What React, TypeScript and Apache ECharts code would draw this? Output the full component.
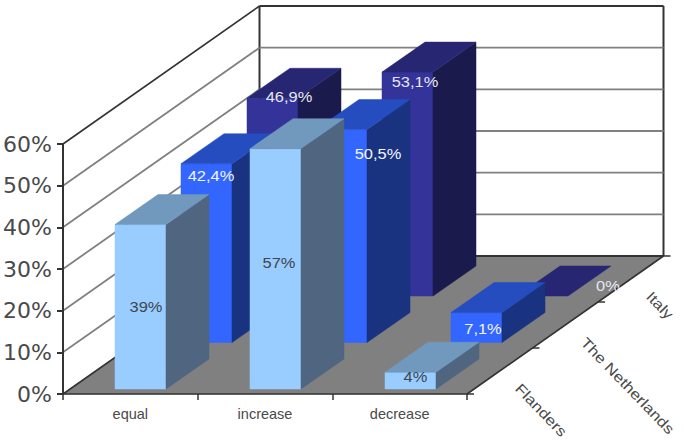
import React, { useEffect, useRef } from "react";
import * as echarts from "echarts";

const categories = ["equal", "increase", "decrease"];
const regions = ["Flanders", "The Netherlands", "Italy"];
const yTicks = [0, 10, 20, 30, 40, 50, 60];

const flandersValues = [39, 57, 4];
const netherlandsValues = [42.4, 50.5, 7.1];
const italyValues = [46.9, 53.1, 0];

const flandersLabels = ["39%", "57%", "4%"];
const netherlandsLabels = ["42,4%", "50,5%", "7,1%"];
const italyLabels = ["46,9%", "53,1%", "0%"];

// Box shading per region: front, top and side faces
const flandersFaces = ["#99ccff", "#7099bd", "#4f6580"];
const netherlandsFaces = ["#3366ff", "#254dbf", "#193380"];
const italyFaces = ["#333399", "#262673", "#1a1a4d"];

// Oblique projection of the depth axis, in pixels
const DEPTH_X = 196.5;
const DEPTH_Y = -138;
const ROW_X = 66;
const ROW_Y = -46.5;
const BOX_X = 43;
const BOX_Y = -30;
const BAR_RATIO = 51 / 135;
const AXIS_COLOR = "#333333";
const TEXT_COLOR = "#4a4a4a";
const TEXT_FONT = '"Liberation Sans", Arial, sans-serif';

// Hand placement of the value labels, relative to the top centre of each box's front
const flandersNudge = [[5.5, 82], [3.5, 114], [5, 5]];
const netherlandsNudge = [[4.5, 12], [36.5, 24], [6.5, 16]];
const italyNudge = [[16.5, -2], [7.5, 10], [65.5, -10]];

const line = (x1: number, y1: number, x2: number, y2: number, stroke: string, lineWidth: number) => ({
  type: "line",
  shape: { x1, y1, x2, y2 },
  style: { stroke, lineWidth },
  silent: true,
});

const face = (points: number[][], fill: string) => ({
  type: "polygon",
  shape: { points },
  style: { fill, stroke: fill, lineWidth: 0.5 },
  silent: true,
});

// The floor, both walls and their gridlines, one item per value tick
const renderWalls = (params: any, api: any) => {
  const cs = params.coordSys;
  const v = api.value(0);
  const [, y] = api.coord([0, v]);
  const x0 = cs.x;
  const x1 = cs.x + cs.width;
  const backX0 = x0 + DEPTH_X;
  const backX1 = x1 + DEPTH_X;
  const backY = y + DEPTH_Y;
  const edge = v === 0 || v === 60;
  const stroke = edge ? AXIS_COLOR : "#808080";
  const width = edge ? 1.6 : 1.8;
  const children: any[] = [];
  if (v === 0) {
    children.push(
      face([[x0, y], [x1, y], [backX1, backY], [backX0, backY]], "#808080"),
      line(backX0, backY, backX0, backY + (cs.y - y), AXIS_COLOR, 2),
      line(backX1, backY, backX1, backY + (cs.y - y), AXIS_COLOR, 2),
      line(x1, y, backX1, backY, AXIS_COLOR, 1.6),
    );
  }
  children.push(
    line(x0, y, backX0, backY, stroke, width),
    line(backX0, backY, backX1, backY, stroke, edge ? 2 : 1.8),
  );
  return { type: "group", children };
};

// Depth axis ticks and their slanted region names
const renderDepthAxis = (params: any, api: any) => {
  const cs = params.coordSys;
  const i = api.value(0);
  const x1 = cs.x + cs.width;
  const y0 = cs.y + cs.height;
  const tickX = x1 + (DEPTH_X * i) / 3;
  const tickY = y0 + (DEPTH_Y * i) / 3;
  const children: any[] = [line(tickX, tickY, tickX + 7, tickY, AXIS_COLOR, 1.5)];
  if (i < regions.length) {
    const midX = x1 + (DEPTH_X * (i + 0.5)) / 3;
    const midY = y0 + (DEPTH_Y * (i + 0.5)) / 3;
    children.push({
      type: "text",
      x: midX + 18,
      y: midY + 15,
      rotation: (-46 * Math.PI) / 180,
      scaleX: 1.19,
      silent: true,
      style: {
        text: regions[i],
        fill: TEXT_COLOR,
        font: `14.5px ${TEXT_FONT}`,
        textAlign: "left",
        textVerticalAlign: "middle",
      },
    });
  }
  return { type: "group", children };
};

// One row of 3D boxes: front, top and side faces plus the value label
const renderBoxes = (row: number, faces: string[], labels: string[], nudges: number[][], labelColor: string) =>
  (params: any, api: any) => {
    const idx = api.value(0);
    const [cx, base] = api.coord([idx, 0]);
    const [, top] = api.coord([idx, api.value(1)]);
    const band = api.size([1, 0])[0];
    const w = band * BAR_RATIO;
    const left = cx - w / 2 + ROW_X * row;
    const right = left + w;
    const yTop = top + ROW_Y * row;
    const yBase = base + ROW_Y * row;
    const [front, upper, side] = faces;
    const children: any[] = [];
    if (yBase - yTop > 0.5) {
      children.push(face([[left, yTop], [right, yTop], [right, yBase], [left, yBase]], front));
      children.push(
        face([[right, yTop], [right + BOX_X, yTop + BOX_Y], [right + BOX_X, yBase + BOX_Y], [right, yBase]], side),
      );
    }
    children.push(
      face([[left, yTop], [right, yTop], [right + BOX_X, yTop + BOX_Y], [left + BOX_X, yTop + BOX_Y]], upper),
    );
    children.push({
      type: "text",
      x: left + w / 2 + nudges[idx][0],
      y: yTop + nudges[idx][1],
      scaleX: 1.06,
      silent: true,
      style: {
        text: labels[idx],
        fill: labelColor,
        font: `15.5px ${TEXT_FONT}`,
        textAlign: "center",
        textVerticalAlign: "middle",
      },
    });
    return { type: "group", children };
  };

const boxSeries = (
  name: string,
  row: number,
  values: number[],
  faces: string[],
  labels: string[],
  nudges: number[][],
  labelColor: string,
) => ({
  type: "custom",
  name,
  xAxisIndex: 1,
  yAxisIndex: 1,
  z: 5 - row,
  data: values.map((v, i) => [i, v]),
  encode: { x: 0, y: 1 },
  renderItem: renderBoxes(row, faces, labels, nudges, labelColor),
});

export default function App() {
  const ref = useRef<HTMLDivElement>(null);

  useEffect(() => {
    const chart = echarts.init(ref.current!, null, { renderer: "svg" });
    chart.setOption({
      animation: false,
      backgroundColor: "#ffffff",
      grid: [
        { left: 63, top: 144, width: 404, height: 250 },
        { left: 73, top: 136, width: 405, height: 253 },
      ],
      xAxis: [
        {
          type: "category",
          gridIndex: 0,
          data: categories,
          z: 10,
          axisLine: { lineStyle: { color: AXIS_COLOR, width: 1.6 } },
          axisTick: { show: true, length: 6, lineStyle: { color: AXIS_COLOR, width: 1.5 } },
          axisLabel: { color: TEXT_COLOR, fontFamily: TEXT_FONT, fontSize: 14.5, margin: 12 },
        },
        { type: "category", gridIndex: 1, data: categories, show: false },
      ],
      yAxis: [
        {
          type: "value",
          gridIndex: 0,
          min: 0,
          max: 60,
          interval: 10,
          z: 10,
          splitLine: { show: false },
          axisLine: { show: true, lineStyle: { color: AXIS_COLOR, width: 2 } },
          axisTick: { show: true, length: 6, lineStyle: { color: AXIS_COLOR, width: 2 } },
          axisLabel: {
            color: TEXT_COLOR,
            fontFamily: '"DejaVu Sans", sans-serif',
            fontSize: 22,
            margin: 11,
            padding: [2, 0, 0, 0],
            formatter: "{value}%",
          },
        },
        { type: "value", gridIndex: 1, min: 0, max: 60, show: false },
      ],
      series: [
        {
          type: "custom",
          name: "walls",
          z: 1,
          xAxisIndex: 0,
          yAxisIndex: 0,
          data: yTicks.map((v) => [v]),
          encode: { y: 0 },
          renderItem: renderWalls,
        },
        {
          type: "custom",
          name: "depth axis",
          z: 2,
          xAxisIndex: 0,
          yAxisIndex: 0,
          data: [0, 1, 2, 3].map((i) => [i]),
          encode: { x: 0 },
          renderItem: renderDepthAxis,
        },
        boxSeries("Italy", 2, italyValues, italyFaces, italyLabels, italyNudge, "#e6e6f2"),
        boxSeries("The Netherlands", 1, netherlandsValues, netherlandsFaces, netherlandsLabels, netherlandsNudge, "#f2f5ff"),
        boxSeries("Flanders", 0, flandersValues, flandersFaces, flandersLabels, flandersNudge, "#3d4650"),
      ],
    });
    return () => chart.dispose();
  }, []);

  return <div ref={ref} style={{ position: "fixed", left: 0, top: 0, width: 684, height: 440 }} />;
}
